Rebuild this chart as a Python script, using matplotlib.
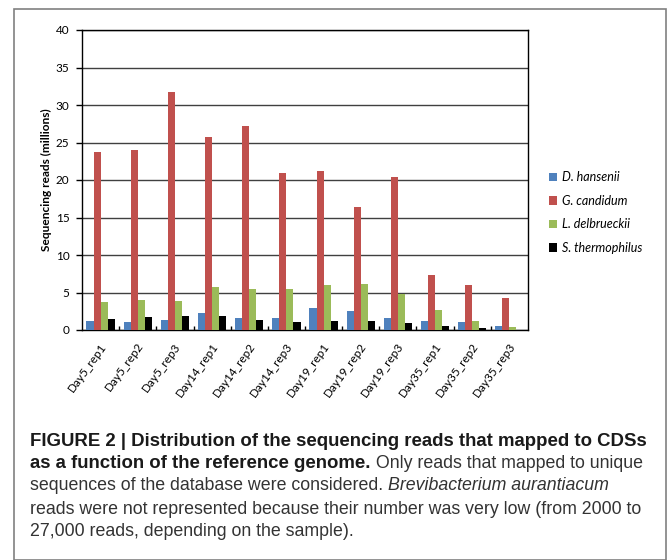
import numpy as np
import matplotlib
matplotlib.use('Agg')
import matplotlib.pyplot as plt
from matplotlib.patches import Rectangle
from matplotlib.ticker import FixedLocator, NullFormatter

samples = ['Day5_rep1', 'Day5_rep2', 'Day5_rep3', 'Day14_rep1', 'Day14_rep2', 'Day14_rep3',
           'Day19_rep1', 'Day19_rep2', 'Day19_rep3', 'Day35_rep1', 'Day35_rep2', 'Day35_rep3']
species = ['D. hansenii', 'G. candidum', 'L. delbrueckii', 'S. thermophilus']
d_hansenii = [1.2, 1.07, 1.38, 2.27, 1.6, 1.6, 2.93, 2.53, 1.56, 1.2, 1.07, 0.53]
g_candidum = [23.8, 23.96, 31.7, 25.8, 27.24, 20.93, 21.24, 16.36, 20.44, 7.33, 6.0, 4.27]
l_delbrueckii = [3.7, 4.04, 3.87, 5.73, 5.51, 5.42, 6.0, 6.13, 4.76, 2.71, 1.2, 0.4]
s_thermophilus = [1.47, 1.69, 1.82, 1.82, 1.33, 1.11, 1.24, 1.2, 0.93, 0.53, 0.31, 0.05]
colors = ['#4F81BD', '#C0504D', '#9BBB59', '#000000']

# caption lines, each a list of (text, style) pieces
caption = [
    [('FIGURE 2 | Distribution of the sequencing reads that mapped to CDSs', 'bold')],
    [('as a function of the reference genome.', 'bold'), (' Only reads that mapped to unique', 'normal')],
    [('sequences of the database were considered. ', 'normal'), ('Brevibacterium aurantiacum', 'italic')],
    [('reads were not represented because their number was very low (from 2000 to', 'normal')],
    [('27,000 reads, depending on the sample).', 'normal')],
]

excel_font = ['Lato', 'DejaVu Sans']
caption_font = ['Liberation Sans', 'DejaVu Sans']

fig = plt.figure(figsize=(6.69, 5.6), dpi=100)
ax = fig.add_axes([82 / 669, 1 - 330 / 560, (528 - 82) / 669, 300 / 560])

x = np.arange(len(samples))
width = 0.19
series = [d_hansenii, g_candidum, l_delbrueckii, s_thermophilus]
for i, (vals, name, c) in enumerate(zip(series, species, colors)):
    ax.bar(x + (i - 1.5) * width, vals, width, color=c, label=name, zorder=3)

ax.set_xlim(-0.5, len(samples) - 0.5)
ax.set_ylim(0, 40)
ax.set_yticks(np.arange(0, 41, 5))
ax.yaxis.grid(True, color='#404040', linewidth=1, zorder=0)
for s in ax.spines.values():
    s.set_color('black')
    s.set_linewidth(1)

ax.set_xticks(x + 0.1)
ax.set_xticklabels(samples, rotation=54, ha='right', va='center', rotation_mode='anchor',
                   fontsize=8.5, family=excel_font)
ax.tick_params(axis='x', which='major', length=0, pad=10)
ax.xaxis.set_minor_locator(FixedLocator(np.arange(0.5, len(samples) - 1, 1)))
ax.xaxis.set_minor_formatter(NullFormatter())
ax.tick_params(axis='x', which='minor', direction='in', length=3, width=1)
ax.tick_params(axis='y', length=4, width=1, labelsize=8.5, pad=5)
for lbl in ax.get_yticklabels():
    lbl.set_family(excel_font)
ax.set_ylabel('Sequencing reads (millions)', fontsize=8.6, fontweight='bold',
              family=excel_font, labelpad=3)

leg = fig.legend(loc='center left', bbox_to_anchor=(538 / 669, 1 - 212.5 / 560),
                 frameon=False, prop={'family': excel_font, 'style': 'italic', 'size': 9},
                 handlelength=0.65, handleheight=0.65, handletextpad=0.4, labelspacing=0.92)

# outer border of the figure panel
fig.patches.append(Rectangle((14 / 669, 0.0), 652 / 669, 1 - 9 / 560, transform=fig.transFigure,
                             fill=False, edgecolor='#808080', linewidth=1.2))


def text_width(s, size, **kw):
    probe = fig.text(0, 0, s, fontsize=size, family=caption_font, **kw)
    w = probe.get_window_extent(renderer).width
    probe.remove()
    return w


# caption: sizes chosen so the lines span the same width as in the figure
renderer = fig.canvas.get_renderer()
bold_size = 12.0 * 615 / text_width(caption[0][0][0], 12.0, fontweight='bold')
norm_size = 12.0 * 610 / text_width(caption[3][0][0], 12.0)

line_y = [441, 463, 486, 509, 532]
for pieces, yy in zip(caption, line_y):
    xpos = 30
    for txt, style in pieces:
        kw = dict(family=caption_font, va='center')
        if style == 'bold':
            kw.update(fontweight='bold', fontsize=bold_size, color='#1a1a1a')
        elif style == 'italic':
            kw.update(style='italic', fontsize=norm_size, color='#333333')
        else:
            kw.update(fontsize=norm_size, color='#333333')
        t = fig.text(xpos / 669, 1 - yy / 560, txt, **kw)
        xpos += t.get_window_extent(renderer).width

fig.savefig('out.png', dpi=100)
